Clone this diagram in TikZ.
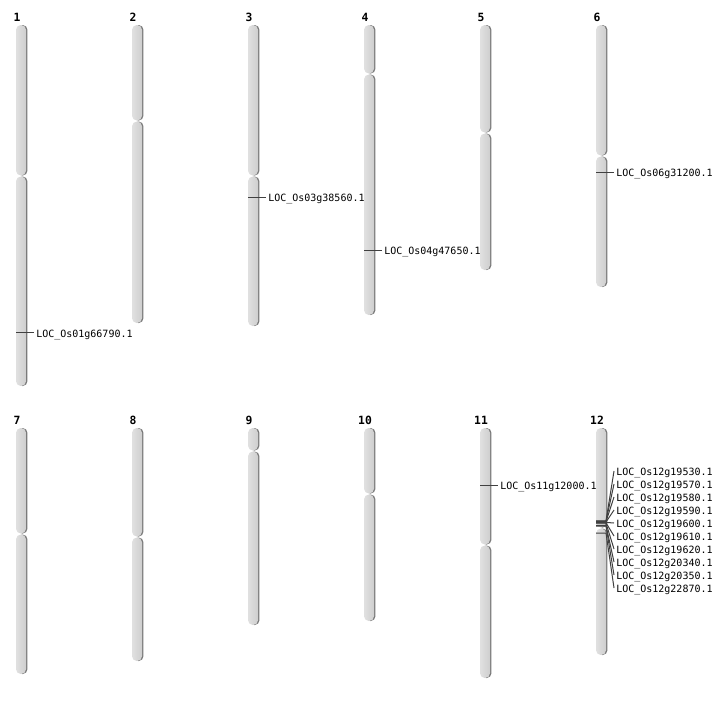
\documentclass[tikz,border=0pt]{standalone}
\usepackage{fontspec}
\setmonofont{DejaVu Sans Mono}
\usepackage{tikz}
\usetikzlibrary{backgrounds}

\begin{document}
\begin{tikzpicture}[x=0.75pt,y=0.75pt,yscale=-1,xscale=1,
  arm/.style={rounded corners=3.6pt,left color=gray!24,right color=gray!38,
    preaction={fill=black!52,transform canvas={xshift=1.1pt}}},
  chrlabel/.style={inner sep=0pt,font=\ttfamily\bfseries\fontsize{8.5}{10}\selectfont},
  gene/.style={anchor=west,inner sep=1.5pt,text height=7pt,text depth=0pt,
    font=\ttfamily\fontsize{7.5}{9}\selectfont},
  tick/.style={draw=black!75,line width=0.75pt}]
\useasboundingbox (0,0) rectangle (712,700);

%Shape: Chromosome 1
\path[arm] (16,25) rectangle (26,175.5) ;
\path[arm] (16,176.5) rectangle (26,386) ;
%Shape: Chromosome 2
\path[arm] (132,25) rectangle (142,120.5) ;
\path[arm] (132,121.5) rectangle (142,323) ;
%Shape: Chromosome 3
\path[arm] (248,25) rectangle (258,175.5) ;
\path[arm] (248,176.5) rectangle (258,326) ;
%Shape: Chromosome 4
\path[arm] (364,25) rectangle (374,73.5) ;
\path[arm] (364,74.5) rectangle (374,315) ;
%Shape: Chromosome 5
\path[arm] (480,25) rectangle (490,132.5) ;
\path[arm] (480,133.5) rectangle (490,270) ;
%Shape: Chromosome 6
\path[arm] (596,25) rectangle (606,155.5) ;
\path[arm] (596,156.5) rectangle (606,287) ;
%Shape: Chromosome 7
\path[arm] (16,428) rectangle (26,533.5) ;
\path[arm] (16,534.5) rectangle (26,674) ;
%Shape: Chromosome 8
\path[arm] (132,428) rectangle (142,536.5) ;
\path[arm] (132,537.5) rectangle (142,661) ;
%Shape: Chromosome 9
\path[arm] (248,428) rectangle (258,450.5) ;
\path[arm] (248,451.5) rectangle (258,625) ;
%Shape: Chromosome 10
\path[arm] (364,428) rectangle (374,493.5) ;
\path[arm] (364,494.5) rectangle (374,621) ;
%Shape: Chromosome 11
\path[arm] (480,428) rectangle (490,544.5) ;
\path[arm] (480,545.5) rectangle (490,678) ;
%Shape: Chromosome 12
\path[arm] (596,428) rectangle (606,527.5) ;
\path[arm] (596,528.5) rectangle (606,655) ;

% Text Node
\node[chrlabel] (n1) at (17,17) {1};
\node[chrlabel] (n2) at (133,17) {2};
\node[chrlabel] (n3) at (249,17) {3};
\node[chrlabel] (n4) at (365,17) {4};
\node[chrlabel] (n5) at (481,17) {5};
\node[chrlabel] (n6) at (597,17) {6};
\node[chrlabel] (n7) at (17,420) {7};
\node[chrlabel] (n8) at (133,420) {8};
\node[chrlabel] (n9) at (249,420) {9};
\node[chrlabel] (n10) at (365,420) {10};
\node[chrlabel] (n11) at (481,420) {11};
\node[chrlabel] (n12) at (597,420) {12};

%Markers with one gene
\coordinate (m1) at (16,332.5);
\node[gene] (g1) at (34,332.5) {LOC\_Os01g66790.1};
\draw[tick] (m1) -- (g1.west);
\coordinate (m3) at (248,197);
\node[gene] (g3) at (266,197) {LOC\_Os03g38560.1};
\draw[tick] (m3) -- (g3.west);
\coordinate (m4) at (364,250);
\node[gene] (g4) at (382,250) {LOC\_Os04g47650.1};
\draw[tick] (m4) -- (g4.west);
\coordinate (m6) at (596,172);
\node[gene] (g6) at (614,172) {LOC\_Os06g31200.1};
\draw[tick] (m6) -- (g6.west);
\coordinate (m11) at (480,485);
\node[gene] (g11) at (498,485) {LOC\_Os11g12000.1};
\draw[tick] (m11) -- (g11.west);

%Markers on chromosome 12
\coordinate (m12a) at (596,520.8);
\coordinate (m12b) at (596,521.2);
\coordinate (m12c) at (596,521.6);
\coordinate (m12d) at (596,522);
\coordinate (m12e) at (596,522.4);
\coordinate (m12f) at (596,522.8);
\coordinate (m12g) at (596,523.2);
\coordinate (m12h) at (596,525.3);
\coordinate (m12i) at (596,526);
\coordinate (m12j) at (596,533);
\node[gene] (g12a) at (614,471) {LOC\_Os12g19530.1};
\node[gene] (g12b) at (614,484) {LOC\_Os12g19570.1};
\node[gene] (g12c) at (614,497) {LOC\_Os12g19580.1};
\node[gene] (g12d) at (614,510) {LOC\_Os12g19590.1};
\node[gene] (g12e) at (614,523) {LOC\_Os12g19600.1};
\node[gene] (g12f) at (614,536) {LOC\_Os12g19610.1};
\node[gene] (g12g) at (614,549) {LOC\_Os12g19620.1};
\node[gene] (g12h) at (614,562) {LOC\_Os12g20340.1};
\node[gene] (g12i) at (614,575) {LOC\_Os12g20350.1};
\node[gene] (g12j) at (614,588) {LOC\_Os12g22870.1};
\draw[tick] (m12a) -- ++(10,0) -- (g12a.west);
\draw[tick] (m12b) -- ++(10,0) -- (g12b.west);
\draw[tick] (m12c) -- ++(10,0) -- (g12c.west);
\draw[tick] (m12d) -- ++(10,0) -- (g12d.west);
\draw[tick] (m12e) -- ++(10,0) -- (g12e.west);
\draw[tick] (m12f) -- ++(10,0) -- (g12f.west);
\draw[tick] (m12g) -- ++(10,0) -- (g12g.west);
\draw[tick] (m12h) -- ++(10,0) -- (g12h.west);
\draw[tick] (m12i) -- ++(10,0) -- (g12i.west);
\draw[tick] (m12j) -- ++(10,0) -- (g12j.west);

\end{tikzpicture}
\end{document}
